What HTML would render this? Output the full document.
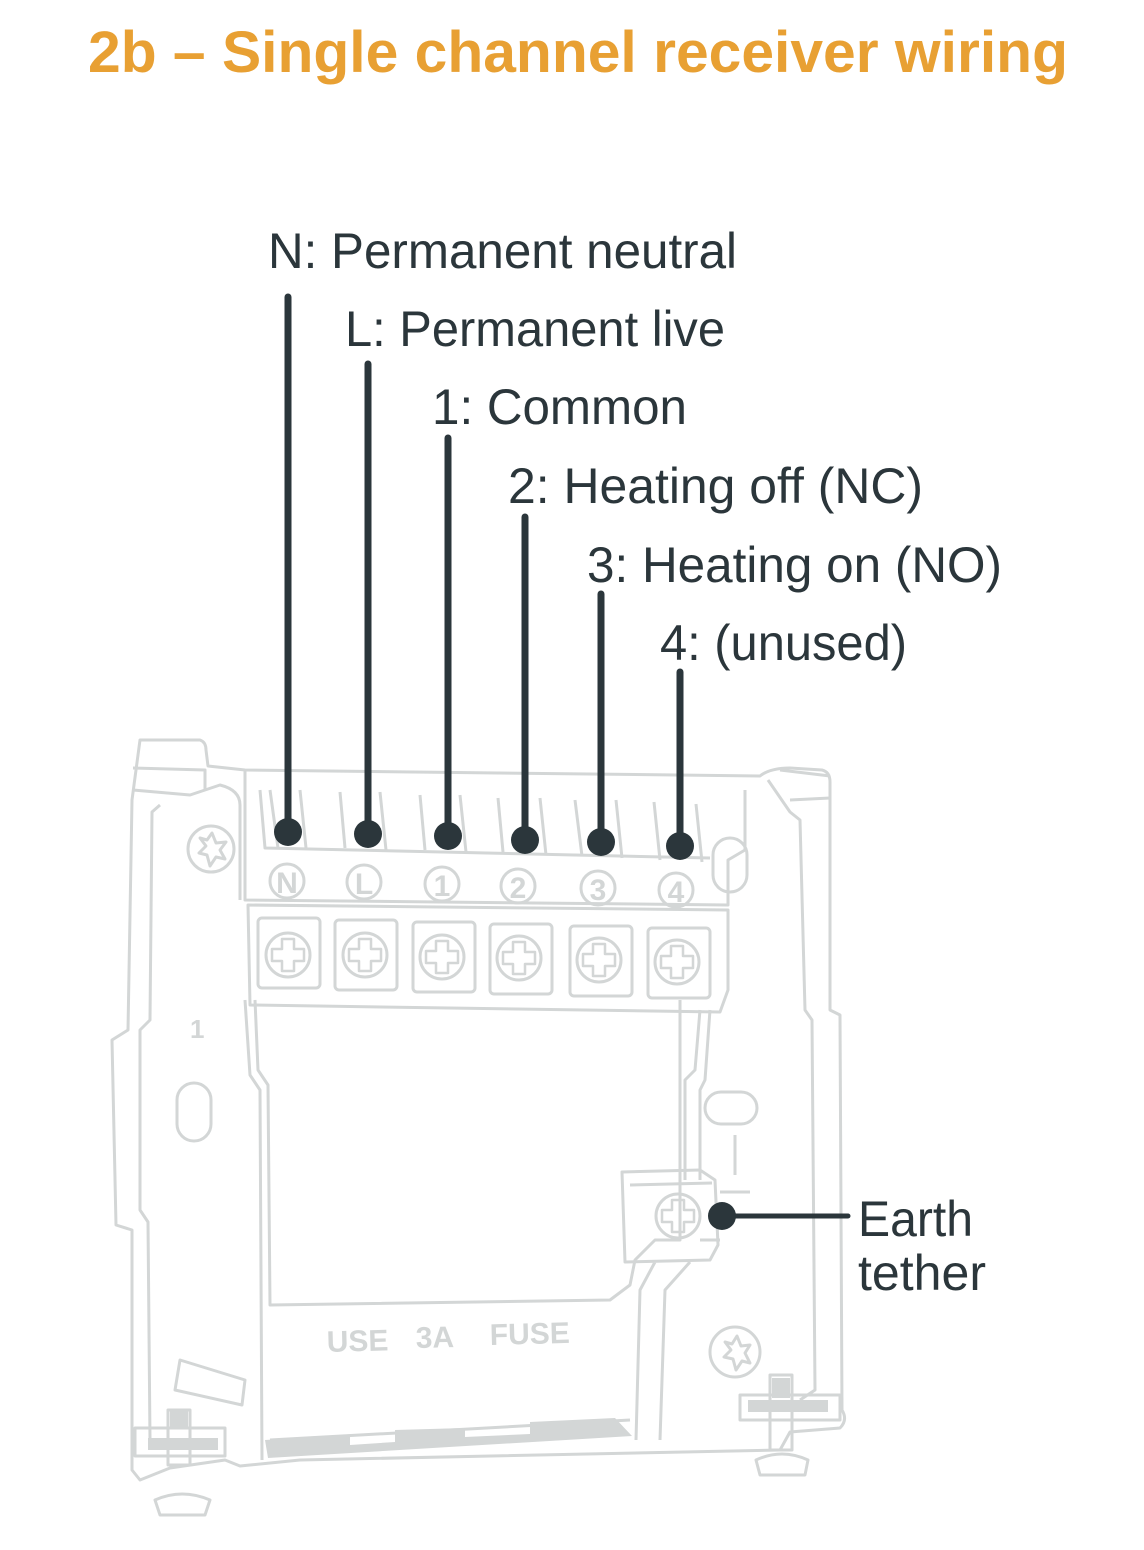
<!DOCTYPE html>
<html><head><meta charset="utf-8"><style>
html,body{margin:0;padding:0;background:#fff;}
svg{display:block;}
</style></head><body>
<svg width="1144" height="1550" viewBox="0 0 1144 1550" xmlns="http://www.w3.org/2000/svg">
<defs>
  <g id="scr">
    <circle cx="0" cy="0" r="22"/>
    <path d="M-6,-16 L6,-16 L6,-6 L16,-6 L16,6 L6,6 L6,16 L-6,16 L-6,6 L-16,6 L-16,-6 L-6,-6 Z" stroke-width="2.5"/>
  </g>
</defs>
<text x="88" y="72" font-family="Liberation Sans, sans-serif" font-weight="bold" font-size="58" fill="#E8A033" textLength="980" lengthAdjust="spacingAndGlyphs">2b – Single channel receiver wiring</text>

<g fill="none" stroke="#d3d6d6" stroke-width="3" stroke-linejoin="round">
  <path d="M140,740 L200,740 Q206,742 206,750 L208,766 L245,770 L760,776 Q770,768 790,768 L822,770 Q830,772 830,782 L830,1010 L840,1015 L842,1410 Q848,1420 840,1428 L790,1432 L780,1450 L300,1460 L240,1466 L225,1460 L170,1468 L140,1480 L132,1470 L132,1230 L116,1225 L112,1040 L128,1030 L132,800 Z"/>
  <path d="M133,768 L205,770 L205,790 M133,790 L190,795 L220,785 Q240,790 240,805 L240,900 M160,805 L152,812 L150,1020 L140,1030 L140,1210 L148,1222 L150,1440"/>
  <path d="M768,780 L790,812 L800,820 L805,1010 L812,1020 L815,1390 L800,1400 M780,770 L830,776 M790,800 L830,798"/>
  <path d="M245,770 L245,900 L728,905 L728,860 L745,850 L745,790 M260,790 L265,848 L710,858"/>
  <path d="M270,790 L278,848 M300,790 L306,848 M340,792 L345,848 M380,792 L386,850 M420,795 L425,850 M460,795 L466,852 M498,798 L503,852 M540,798 L546,855 M575,800 L582,856 M616,800 L622,858 M654,802 L660,860 M696,804 L702,862"/>
  <circle cx="211" cy="849" r="23"/>
  <path d="M200,838 L206,846 L199,853 L207,855 L210,866 L216,857 L225,859 L220,850 L226,842 L216,843 L212,833 L207,840 Z"/>
  <rect x="713" y="838" width="34" height="54" rx="17"/>
  <path d="M248,905 L728,910 L728,990 L720,1012 L250,1005 Z"/>
  <rect x="258" y="918" width="62" height="70" rx="4"/>
  <rect x="335" y="920" width="62" height="70" rx="4"/>
  <rect x="413" y="922" width="62" height="70" rx="4"/>
  <rect x="490" y="924" width="62" height="70" rx="4"/>
  <rect x="570" y="926" width="62" height="70" rx="4"/>
  <rect x="648" y="928" width="62" height="70" rx="4"/>
  <use href="#scr" x="288" y="955"/><use href="#scr" x="365" y="955"/><use href="#scr" x="442" y="957"/><use href="#scr" x="519" y="958"/><use href="#scr" x="599" y="960"/><use href="#scr" x="677" y="962"/>
  <circle cx="287" cy="881" r="17"/><circle cx="364" cy="882" r="17"/><circle cx="442" cy="884" r="17"/><circle cx="518" cy="886" r="17"/><circle cx="598" cy="888" r="17"/><circle cx="676" cy="890" r="17"/>
  <path d="M255,1000 L258,1070 L268,1085 L270,1305 L610,1300 L630,1285 L635,1260 L655,1240 L680,1240 L680,1000"/>
  <path d="M245,1000 L250,1075 L260,1090 L262,1460"/>
  <path d="M700,1010 L695,1070 L685,1080 L685,1180 M710,1010 L705,1080 L700,1090 L700,1180"/>
  <path d="M622,1172 L700,1170 L715,1180 L718,1245 L710,1260 L625,1262 Z M630,1185 L712,1183 M655,1262 L640,1290 L636,1440 M690,1262 L665,1290 L660,1440 M700,1240 L720,1240"/>
  <use href="#scr" x="678" y="1216"/>
  <rect x="705" y="1092" width="52" height="32" rx="16"/>
  <path d="M735,1135 L735,1175 M720,1192 L750,1192"/>
  <rect x="177" y="1083" width="34" height="58" rx="17"/>
  <circle cx="735" cy="1352" r="25"/>
  <path d="M725,1342 L731,1350 L724,1357 L733,1359 L736,1370 L742,1361 L750,1363 L745,1353 L750,1345 L741,1346 L737,1336 L732,1344 Z"/>
  <path d="M180,1360 L245,1380 L242,1405 L175,1390 Z"/>
  <rect x="135" y="1428" width="90" height="28"/>
  <path d="M168,1410 h22 v55 h-22 Z M155,1500 Q182,1488 210,1500 L205,1515 L160,1515 Z"/>
  <rect x="740" y="1395" width="100" height="25"/>
  <path d="M770,1375 h22 v75 h-22 Z M756,1460 Q782,1448 808,1460 L805,1475 L760,1475 Z"/>
  <path d="M270,1440 L630,1420"/>
</g>
<g fill="#d3d6d6">
  <path d="M265,1440 L350,1435 L350,1445 L395,1442 L395,1430 L465,1428 L465,1437 L530,1434 L530,1422 L615,1418 L632,1436 L268,1458 Z"/>
  <path d="M170,1410 h18 v18 h-18 Z M148,1438 h70 v12 h-70 Z M772,1378 h18 v20 h-18 Z M748,1400 h80 v12 h-80 Z"/>
</g>
<g font-family="Liberation Sans, sans-serif" font-weight="bold" fill="#d3d6d6">
  <text x="287" y="893" font-size="30" text-anchor="middle">N</text>
  <text x="364" y="894" font-size="30" text-anchor="middle">L</text>
  <text x="442" y="896" font-size="30" text-anchor="middle">1</text>
  <text x="518" y="898" font-size="30" text-anchor="middle">2</text>
  <text x="598" y="900" font-size="30" text-anchor="middle">3</text>
  <text x="676" y="902" font-size="30" text-anchor="middle">4</text>
  <text x="190" y="1038" font-size="26">1</text>
  <text x="327" y="1352" font-size="30" transform="rotate(-1.5 327 1352)">USE</text>
  <text x="416" y="1348" font-size="30" transform="rotate(-1.5 416 1348)">3A</text>
  <text x="490" y="1345" font-size="30" transform="rotate(-1.5 490 1345)">FUSE</text>
</g>

<g stroke="#2b363b" stroke-width="7" stroke-linecap="round">
  <line x1="288" y1="297" x2="288" y2="830"/>
  <line x1="368" y1="364" x2="368" y2="832"/>
  <line x1="448" y1="438" x2="448" y2="834"/>
  <line x1="525" y1="517" x2="525" y2="838"/>
  <line x1="601" y1="594" x2="601" y2="840"/>
  <line x1="680" y1="672" x2="680" y2="844"/>
  <line x1="722" y1="1216" x2="848" y2="1216" stroke-width="5"/>
</g>
<g fill="#2b363b">
  <circle cx="288" cy="832" r="14"/><circle cx="368" cy="834" r="14"/><circle cx="448" cy="836" r="14"/><circle cx="525" cy="840" r="14"/><circle cx="601" cy="842" r="14"/><circle cx="680" cy="846" r="14"/><circle cx="722" cy="1216" r="14"/>
</g>
<g font-family="Liberation Sans, sans-serif" font-size="50" fill="#2b363b">
  <text x="268" y="268" textLength="469" lengthAdjust="spacingAndGlyphs">N: Permanent neutral</text>
  <text x="345" y="346" textLength="380" lengthAdjust="spacingAndGlyphs">L: Permanent live</text>
  <text x="432" y="424" textLength="255" lengthAdjust="spacingAndGlyphs">1: Common</text>
  <text x="508" y="503" textLength="415" lengthAdjust="spacingAndGlyphs">2: Heating off (NC)</text>
  <text x="587" y="582" textLength="415" lengthAdjust="spacingAndGlyphs">3: Heating on (NO)</text>
  <text x="660" y="660" textLength="247" lengthAdjust="spacingAndGlyphs">4: (unused)</text>
  <text x="858" y="1236" textLength="115" lengthAdjust="spacingAndGlyphs">Earth</text>
  <text x="858" y="1290" textLength="128" lengthAdjust="spacingAndGlyphs">tether</text>
</g>
</svg>
</body></html>
